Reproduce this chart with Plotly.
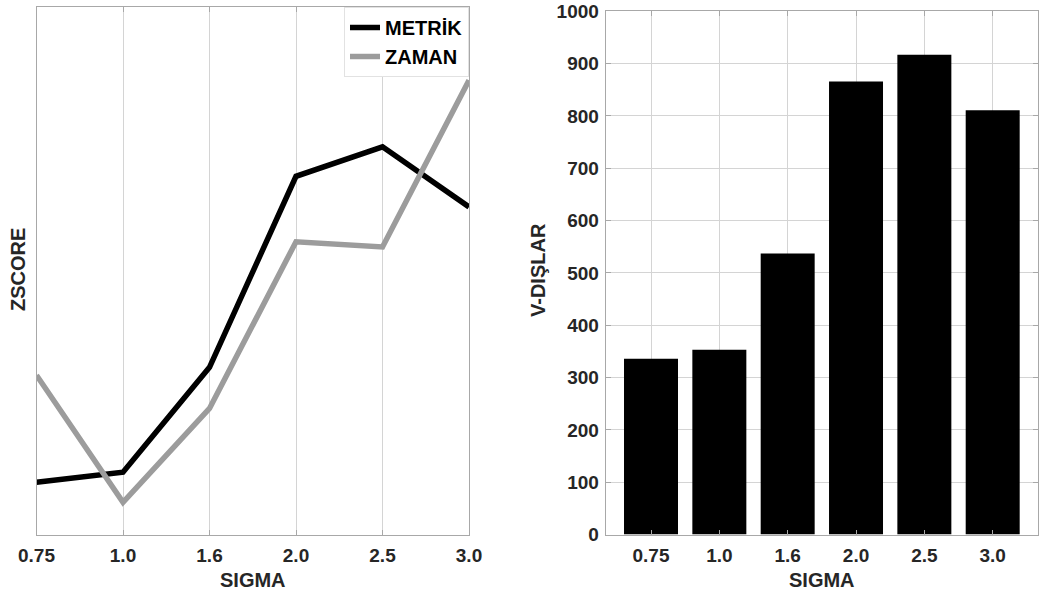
import plotly.graph_objects as go

sigma = ["0.75", "1.0", "1.6", "2.0", "2.5", "3.0"]
metrik = [0.099, 0.118, 0.317, 0.679, 0.735, 0.621]
zaman = [0.302, 0.061, 0.239, 0.555, 0.545, 0.861]
v_dislar = [336, 353, 537, 866, 917, 811]
y_ticks = list(range(0, 1001, 100))

FONT = "Liberation Sans, Arial, sans-serif"
TXT = "#262626"
GRID = "#d4d4d4"
AXC = "#a8a8a8"

fig = go.Figure()
fig.add_trace(go.Scatter(x=sigma, y=metrik, mode="lines", name="METRİK",
                         line=dict(color="#000000", width=5.5), xaxis="x", yaxis="y"))
fig.add_trace(go.Scatter(x=sigma, y=zaman, mode="lines", name="ZAMAN",
                         line=dict(color="#9c9c9c", width=5.5), xaxis="x", yaxis="y"))
fig.add_trace(go.Bar(x=sigma, y=v_dislar, marker=dict(color="#000000", line=dict(width=0)),
                     showlegend=False, xaxis="x2", yaxis="y2"))

W, H = 1040, 597
L1, R1 = 36.5, 469
L2, R2 = 605.7, 1038
T, T2, B = 7, 11, 534.5

def px(v):
    return v / W

def py(v):
    return 1 - v / H

common_x = dict(type="category", showgrid=True, gridcolor=GRID, gridwidth=1,
                showline=True, linecolor=AXC, linewidth=1, mirror="ticks",
                ticks="inside", ticklen=5, tickcolor=AXC, automargin=False,
                tickfont=dict(size=19, color=TXT, family=FONT, weight="bold"),
                ticklabelstandoff=4, zeroline=False, ticklabeloverflow="allow")

fig.update_layout(
    width=W, height=H,
    margin=dict(l=0, r=0, t=0, b=0, autoexpand=False),
    paper_bgcolor="white", plot_bgcolor="white",
    font=dict(family=FONT, size=19, color=TXT, weight="bold"),
    bargap=0.21,
    xaxis=dict(domain=[px(L1), px(R1)], range=[0, 5], anchor="y", **common_x),
    yaxis=dict(domain=[py(B), py(T)], range=[0, 1], anchor="x", showgrid=False,
               showticklabels=False, ticks="", showline=True, linecolor=AXC,
               linewidth=1, mirror=True, zeroline=False, automargin=False),
    xaxis2=dict(domain=[px(L2), px(R2)], range=[-0.663, 5.663], anchor="y2", **common_x),
    yaxis2=dict(domain=[py(B), py(T2)], range=[0, 1000.5], anchor="x2",
                tickvals=y_ticks, showgrid=True, gridcolor=GRID, gridwidth=1,
                showline=True, linecolor=AXC, linewidth=1, mirror="ticks",
                ticks="inside", ticklen=5, tickcolor=AXC, zeroline=False,
                automargin=False, ticklabeloverflow="allow",
                tickfont=dict(size=19, color=TXT, family=FONT, weight="bold"),
                ticklabelstandoff=2),
    legend=dict(x=px(R1), xanchor="right", y=py(T), yanchor="top",
                bgcolor="white", bordercolor="#e2e2e2", borderwidth=1,
                font=dict(size=20, color="#000000", family=FONT, weight="bold"),
                itemwidth=30, tracegroupgap=0),
    annotations=[
        dict(text="SIGMA", x=px((L1 + R1) / 2), y=py(580), xref="paper", yref="paper",
             showarrow=False, xanchor="center", yanchor="middle",
             font=dict(size=20, color=TXT, family=FONT, weight="bold")),
        dict(text="SIGMA", x=px((L2 + R2) / 2), y=py(580), xref="paper", yref="paper",
             showarrow=False, xanchor="center", yanchor="middle",
             font=dict(size=20, color=TXT, family=FONT, weight="bold")),
        dict(text="ZSCORE", x=px(18), y=py(270), xref="paper", yref="paper",
             showarrow=False, xanchor="center", yanchor="middle", textangle=-90,
             font=dict(size=20, color=TXT, family=FONT, weight="bold")),
        dict(text="V-DIŞLAR", x=px(538), y=py(270), xref="paper", yref="paper",
             showarrow=False, xanchor="center", yanchor="middle", textangle=-90,
             font=dict(size=20, color=TXT, family=FONT, weight="bold")),
    ],
)

fig.write_html("out.html", config={"displayModeBar": False},
               post_script="document.body.style.margin='0';document.body.style.overflow='hidden';")
